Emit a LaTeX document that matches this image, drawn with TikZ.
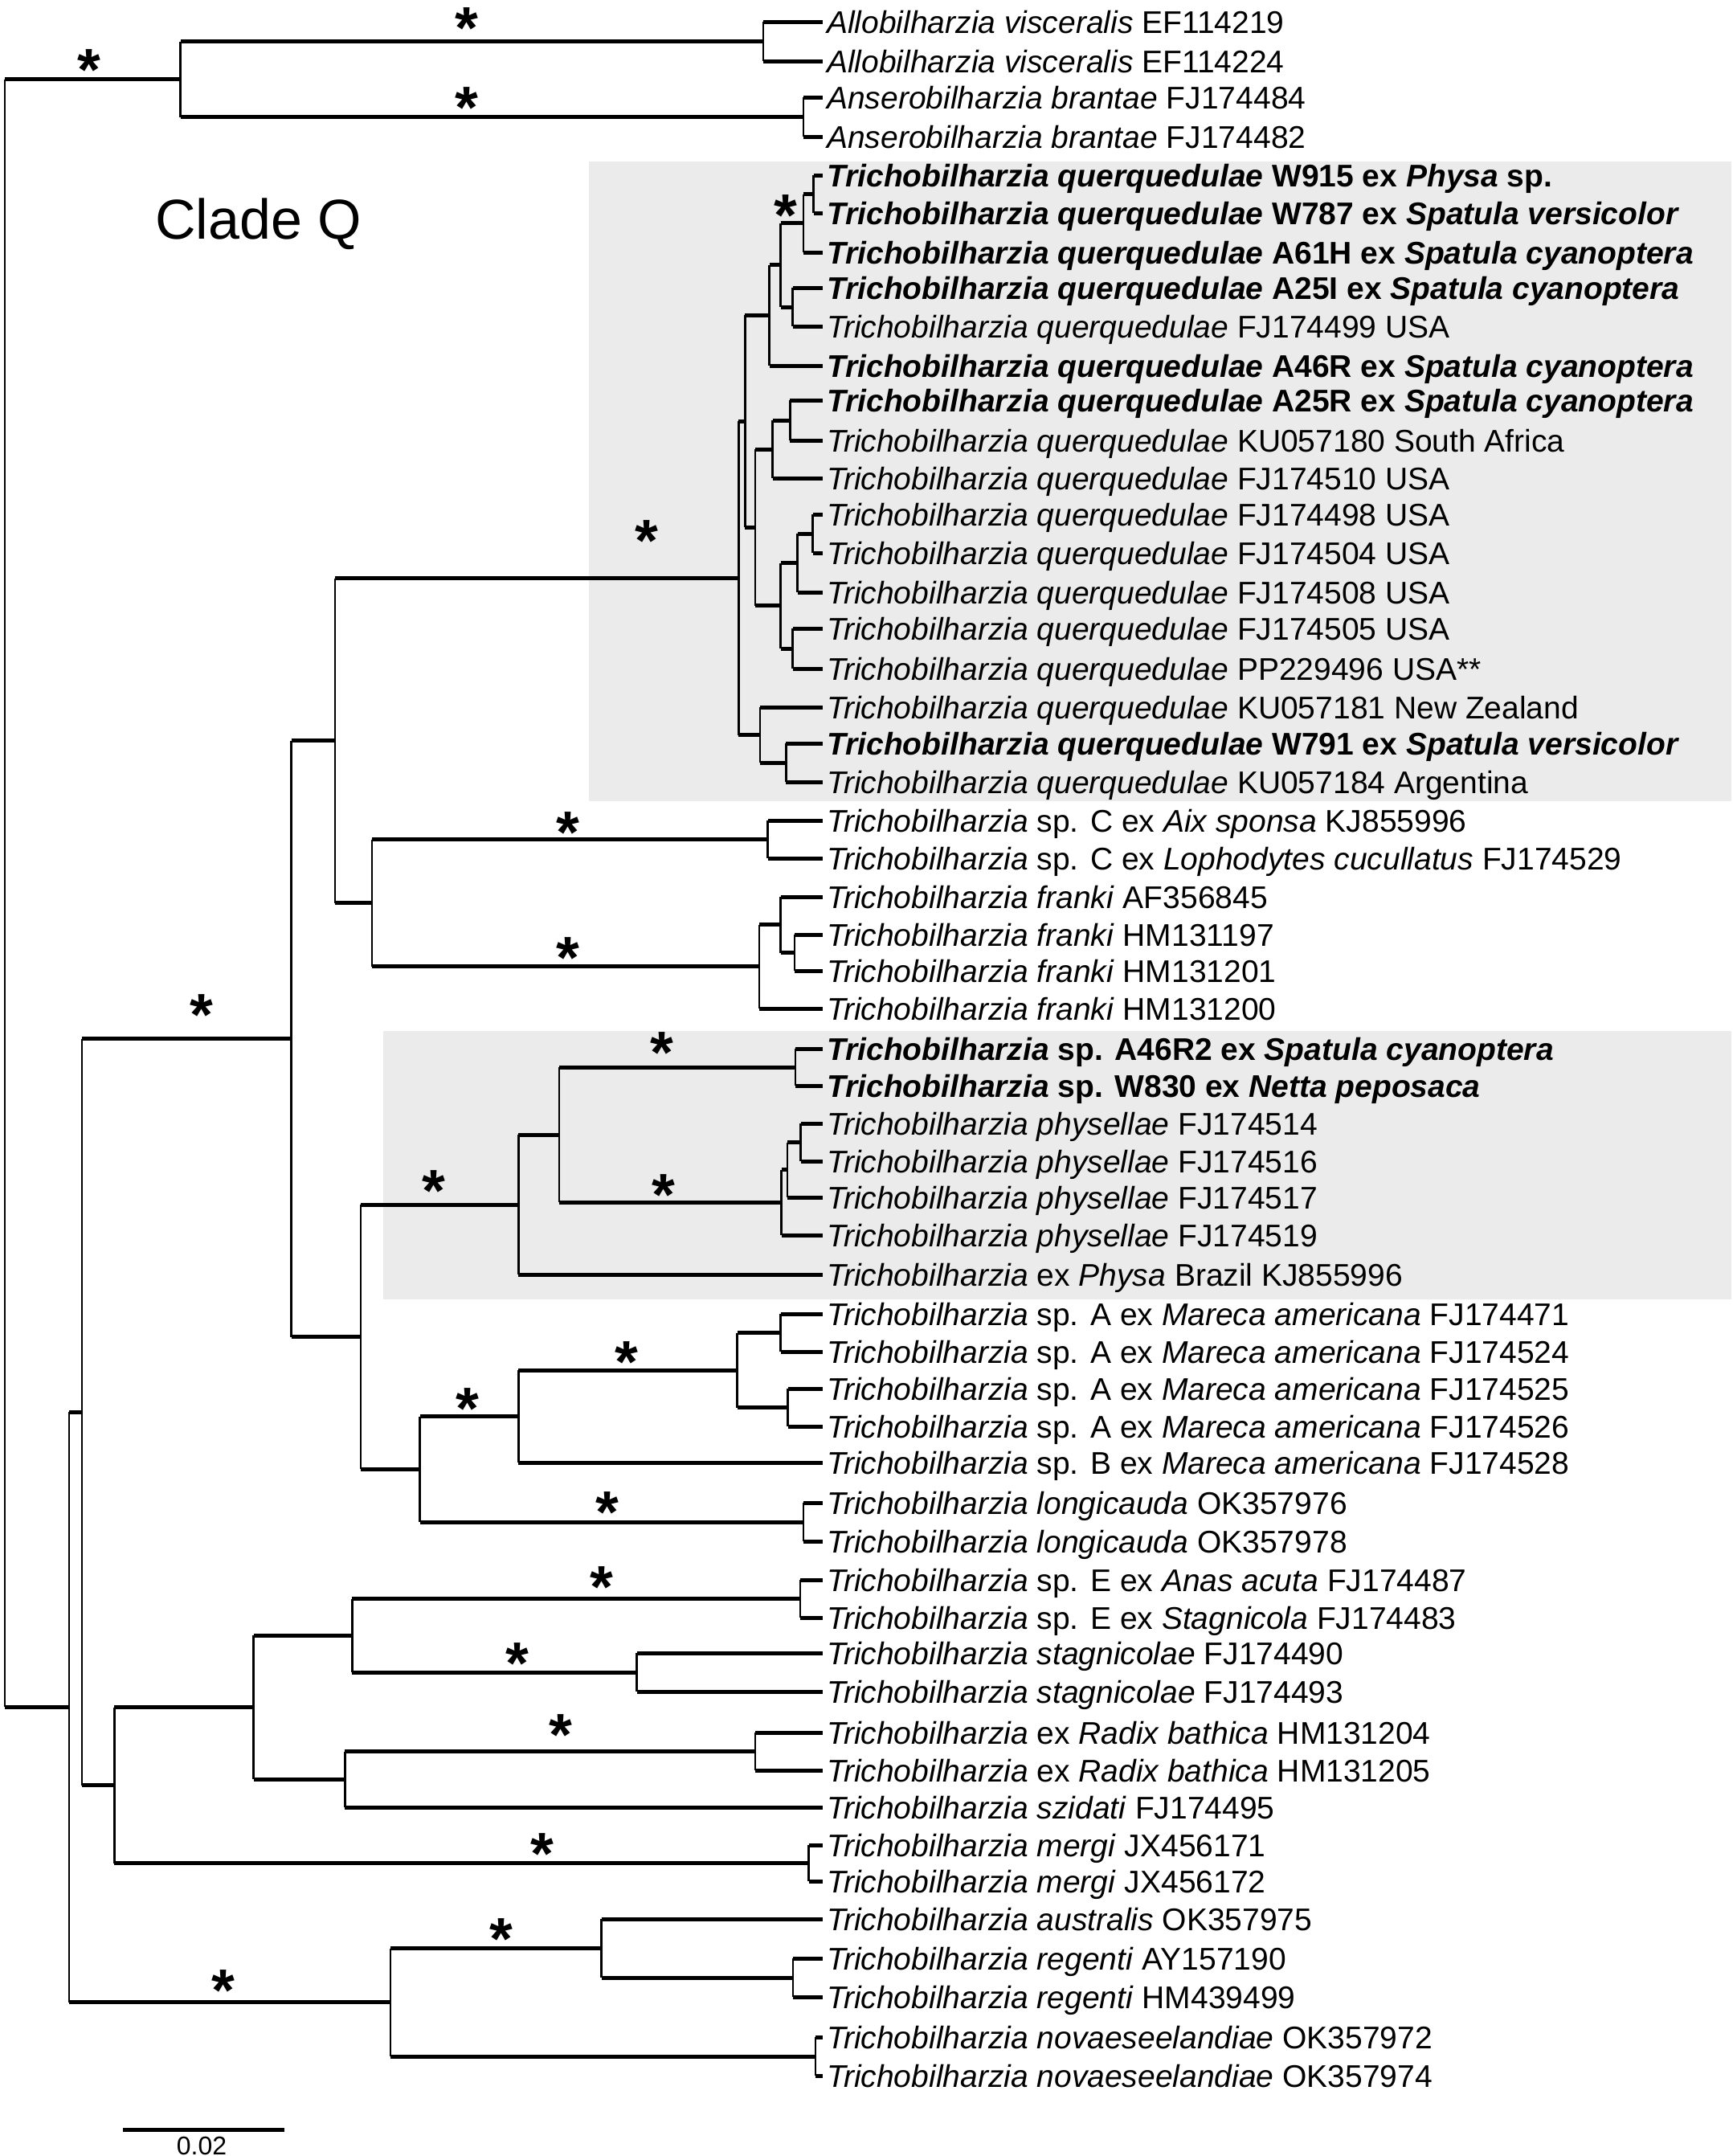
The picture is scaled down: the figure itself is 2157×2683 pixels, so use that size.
\documentclass[tikz,border=0pt]{standalone}
\usepackage{fontspec}
\setmainfont{Liberation Sans}
\definecolor{shade}{RGB}{235,235,235}
\tikzset{
 hl/.style={line width=5pt},
 vl/.style={line width=2.5pt},
 lab/.style={anchor=base west, inner sep=0pt, font=\fontsize{39}{47}\selectfont},
 star/.style={anchor=north, inner sep=0pt, font=\fontsize{74}{80}\selectfont\bfseries},
 cladebox/.style={fill=shade, draw=none}
}
\newcommand\TQ{\textit{Trichobilharzia querquedulae}}
\newcommand\TRI{\textit{Trichobilharzia}}
\newcommand\mkleaf[3]{\coordinate (L#1) at (1024,#2); \node[lab] (T#1) at ([xshift=5pt,yshift=-14pt]L#1) {#3};}
\newcommand\hb[2]{\draw[hl] (#1 |- #2) -- (#2);}
\newcommand\vb[3]{\draw[vl] (#1 |- #2) -- (#1 |- #3);}
\newcommand\tnode[3]{\vb{#1}{#2}{#3}\hb{#1}{#2}\hb{#1}{#3}}
\newcommand\mkstar[3]{\node[star] (#1) at (#2,#3-13) {*};}
\begin{document}
\begin{tikzpicture}[x=1pt,y=-1pt]
\useasboundingbox (0,0) rectangle (2157,2683);
% shaded clades
\fill[cladebox] (733,201) rectangle (2155,997);
\fill[cladebox] (477,1283) rectangle (2155,1617);
% leaves
\mkleaf{1}{27}{\textit{Allobilharzia visceralis} EF114219}
\mkleaf{2}{76}{\textit{Allobilharzia visceralis} EF114224}
\mkleaf{3}{121}{\textit{Anserobilharzia brantae} FJ174484}
\mkleaf{4}{170}{\textit{Anserobilharzia brantae} FJ174482}
\mkleaf{5}{218}{\textbf{\TQ{} W915 ex \textit{Physa} sp.}}
\mkleaf{6}{265}{\textbf{\TQ{} W787 ex \textit{Spatula versicolor}}}
\mkleaf{7}{314}{\textbf{\TQ{} A61H ex \textit{Spatula cyanoptera}}}
\mkleaf{8}{358}{\textbf{\TQ{} A25I ex \textit{Spatula cyanoptera}}}
\mkleaf{9}{406}{\TQ{} FJ174499 USA}
\mkleaf{10}{455}{\textbf{\TQ{} A46R ex \textit{Spatula cyanoptera}}}
\mkleaf{11}{498}{\textbf{\TQ{} A25R ex \textit{Spatula cyanoptera}}}
\mkleaf{12}{548}{\TQ{} KU057180 South Africa}
\mkleaf{13}{595}{\TQ{} FJ174510 USA}
\mkleaf{14}{640}{\TQ{} FJ174498 USA}
\mkleaf{15}{688}{\TQ{} FJ174504 USA}
\mkleaf{16}{737}{\TQ{} FJ174508 USA}
\mkleaf{17}{782}{\TQ{} FJ174505 USA}
\mkleaf{18}{832}{\TQ{} PP229496 USA**}
\mkleaf{19}{880}{\TQ{} KU057181 New Zealand}
\mkleaf{20}{925}{\textbf{\TQ{} W791 ex \textit{Spatula versicolor}}}
\mkleaf{21}{973}{\TQ{} KU057184 Argentina}
\mkleaf{22}{1021}{\TRI{} sp. C ex \textit{Aix sponsa} KJ855996}
\mkleaf{23}{1068}{\TRI{} sp. C ex \textit{Lophodytes cucullatus} FJ174529}
\mkleaf{24}{1116}{\textit{Trichobilharzia franki} AF356845}
\mkleaf{25}{1163}{\textit{Trichobilharzia franki} HM131197}
\mkleaf{26}{1208}{\textit{Trichobilharzia franki} HM131201}
\mkleaf{27}{1255}{\textit{Trichobilharzia franki} HM131200}
\mkleaf{28}{1305}{\textbf{\TRI{} sp. A46R2 ex \textit{Spatula cyanoptera}}}
\mkleaf{29}{1351}{\textbf{\TRI{} sp. W830 ex \textit{Netta peposaca}}}
\mkleaf{30}{1398}{\textit{Trichobilharzia physellae} FJ174514}
\mkleaf{31}{1445}{\textit{Trichobilharzia physellae} FJ174516}
\mkleaf{32}{1490}{\textit{Trichobilharzia physellae} FJ174517}
\mkleaf{33}{1537}{\textit{Trichobilharzia physellae} FJ174519}
\mkleaf{34}{1586}{\TRI{} ex \textit{Physa} Brazil KJ855996}
\mkleaf{35}{1635}{\TRI{} sp. A ex \textit{Mareca americana} FJ174471}
\mkleaf{36}{1682}{\TRI{} sp. A ex \textit{Mareca americana} FJ174524}
\mkleaf{37}{1728}{\TRI{} sp. A ex \textit{Mareca americana} FJ174525}
\mkleaf{38}{1775}{\TRI{} sp. A ex \textit{Mareca americana} FJ174526}
\mkleaf{39}{1820}{\TRI{} sp. B ex \textit{Mareca americana} FJ174528}
\mkleaf{40}{1870}{\textit{Trichobilharzia longicauda} OK357976}
\mkleaf{41}{1918}{\textit{Trichobilharzia longicauda} OK357978}
\mkleaf{42}{1966}{\TRI{} sp. E ex \textit{Anas acuta} FJ174487}
\mkleaf{43}{2013}{\TRI{} sp. E ex \textit{Stagnicola} FJ174483}
\mkleaf{44}{2057}{\textit{Trichobilharzia stagnicolae} FJ174490}
\mkleaf{45}{2105}{\textit{Trichobilharzia stagnicolae} FJ174493}
\mkleaf{46}{2156}{\TRI{} ex \textit{Radix bathica} HM131204}
\mkleaf{47}{2203}{\TRI{} ex \textit{Radix bathica} HM131205}
\mkleaf{48}{2249}{\textit{Trichobilharzia szidati} FJ174495}
\mkleaf{49}{2296}{\textit{Trichobilharzia mergi} JX456171}
\mkleaf{50}{2341}{\textit{Trichobilharzia mergi} JX456172}
\mkleaf{51}{2388}{\textit{Trichobilharzia australis} OK357975}
\mkleaf{52}{2437}{\textit{Trichobilharzia regenti} AY157190}
\mkleaf{53}{2485}{\textit{Trichobilharzia regenti} HM439499}
\mkleaf{54}{2535}{\textit{Trichobilharzia novaeseelandiae} OK357972}
\mkleaf{55}{2583}{\textit{Trichobilharzia novaeseelandiae} OK357974}
% internal nodes
\coordinate (root) at (6,1111.5);
\coordinate (nOut) at (224.5,98.5);
\coordinate (nAllo) at (950,51.5);
\coordinate (nAnser) at (1000,145.5);
\coordinate (nIn) at (86,2124.4);
\coordinate (nB) at (102,1757.1);
\coordinate (nD) at (362.7,1292.6);
\coordinate (nF) at (417,921.6);
\coordinate (nQ) at (919.3,719.5);
\coordinate (nQ1) at (927.3,524.4);
\coordinate (nQ3) at (957.7,392.4);
\coordinate (nQ5) at (971.7,329.9);
\coordinate (nQ6) at (1000,277.75);
\coordinate (nQ8) at (1012.7,241.5);
\coordinate (nQ7) at (986.7,382);
\coordinate (nQ4) at (940,656.4);
\coordinate (nQ9) at (961.7,559);
\coordinate (nQ11) at (983.3,523);
\coordinate (nQ10) at (971.7,753.75);
\coordinate (nQ12) at (992.7,700.5);
\coordinate (nQ14) at (1011.7,664);
\coordinate (nQ13) at (986.7,807);
\coordinate (nQ2) at (946,914.5);
\coordinate (nQ15) at (978.3,949);
\coordinate (nH) at (463,1123.7);
\coordinate (nAix) at (955.5,1044.5);
\coordinate (nFr) at (945,1202.9);
\coordinate (nFr2) at (971.6,1150.75);
\coordinate (nFr3) at (989,1185.5);
\coordinate (nG) at (449,1663.7);
\coordinate (nP) at (645.4,1499.1);
\coordinate (nP1) at (696,1412.2);
\coordinate (nP2) at (990,1328);
\coordinate (nP3) at (972.7,1496.4);
\coordinate (nP4) at (980,1455.75);
\coordinate (nP5) at (996.7,1421.5);
\coordinate (nM) at (522.6,1828.25);
\coordinate (nM1) at (645.4,1762.5);
\coordinate (nM2) at (917.6,1705);
\coordinate (nM3) at (971.6,1658.5);
\coordinate (nM4) at (980.7,1751.5);
\coordinate (nLo) at (1000,1894);
\coordinate (nE) at (142.4,2221.6);
\coordinate (nE1) at (315.7,2124.75);
\coordinate (nE2) at (438.4,2035.25);
\coordinate (nSpE) at (996,1989.5);
\coordinate (nSt) at (792.7,2081);
\coordinate (nE3) at (429.3,2214.25);
\coordinate (nRa) at (940,2179.5);
\coordinate (nMe) at (1006.7,2318.5);
\coordinate (nC) at (486,2491.75);
\coordinate (nC1) at (748.5,2424.5);
\coordinate (nRe) at (987,2461);
\coordinate (nNo) at (1015,2559);
% branches
\tnode{root}{nOut}{nIn}
\tnode{nOut}{nAllo}{nAnser}
\tnode{nAllo}{L1}{L2}
\tnode{nAnser}{L3}{L4}
\tnode{nIn}{nB}{nC}
\tnode{nB}{nD}{nE}
\tnode{nD}{nF}{nG}
\tnode{nF}{nQ}{nH}
\tnode{nQ}{nQ1}{nQ2}
\tnode{nQ1}{nQ3}{nQ4}
\tnode{nQ3}{nQ5}{L10}
\tnode{nQ5}{nQ6}{nQ7}
\tnode{nQ6}{nQ8}{L7}
\tnode{nQ8}{L5}{L6}
\tnode{nQ7}{L8}{L9}
\tnode{nQ4}{nQ9}{nQ10}
\tnode{nQ9}{nQ11}{L13}
\tnode{nQ11}{L11}{L12}
\tnode{nQ10}{nQ12}{nQ13}
\tnode{nQ12}{nQ14}{L16}
\tnode{nQ14}{L14}{L15}
\tnode{nQ13}{L17}{L18}
\tnode{nQ2}{L19}{nQ15}
\tnode{nQ15}{L20}{L21}
\tnode{nH}{nAix}{nFr}
\tnode{nAix}{L22}{L23}
\tnode{nFr}{nFr2}{L27}
\tnode{nFr2}{L24}{nFr3}
\tnode{nFr3}{L25}{L26}
\tnode{nG}{nP}{nM}
\tnode{nP}{nP1}{L34}
\tnode{nP1}{nP2}{nP3}
\tnode{nP2}{L28}{L29}
\tnode{nP3}{nP4}{L33}
\tnode{nP4}{nP5}{L32}
\tnode{nP5}{L30}{L31}
\tnode{nM}{nM1}{nLo}
\tnode{nM1}{nM2}{L39}
\tnode{nM2}{nM3}{nM4}
\tnode{nM3}{L35}{L36}
\tnode{nM4}{L37}{L38}
\tnode{nLo}{L40}{L41}
\tnode{nE}{nE1}{nMe}
\tnode{nE1}{nE2}{nE3}
\tnode{nE2}{nSpE}{nSt}
\tnode{nSpE}{L42}{L43}
\tnode{nSt}{L44}{L45}
\tnode{nE3}{nRa}{L48}
\tnode{nRa}{L46}{L47}
\tnode{nMe}{L49}{L50}
\tnode{nC}{nC1}{nNo}
\tnode{nC1}{L51}{nRe}
\tnode{nRe}{L52}{L53}
\tnode{nNo}{L54}{L55}
% support asterisks
\mkstar{s1}{111}{74}
\mkstar{s2}{581}{22}
\mkstar{s3}{581}{121}
\mkstar{s4}{978}{255}
\mkstar{s5}{805}{660}
\mkstar{s6}{707}{1023}
\mkstar{s7}{707}{1179}
\mkstar{s8}{251}{1250}
\mkstar{s9}{824}{1297}
\mkstar{s10}{826}{1474}
\mkstar{s11}{540}{1469}
\mkstar{s12}{582}{1740}
\mkstar{s13}{780}{1682}
\mkstar{s14}{756}{1869}
\mkstar{s15}{749}{1962}
\mkstar{s16}{644}{2057}
\mkstar{s17}{698}{2146}
\mkstar{s18}{675}{2294}
\mkstar{s19}{624}{2400}
\mkstar{s20}{278}{2464}
% clade label
\node[anchor=base west, inner sep=0pt, font=\fontsize{70}{80}\selectfont] (cladeQ) at (193,297) {Clade Q};
% scale bar
\coordinate (sb1) at (153,2650);
\coordinate (sb2) at (354,2650);
\draw[hl] (sb1) -- (sb2);
\node[anchor=base, inner sep=0pt, font=\fontsize{32}{38}\selectfont] (sbl) at (251,2681) {0.02};
\end{tikzpicture}
\end{document}
